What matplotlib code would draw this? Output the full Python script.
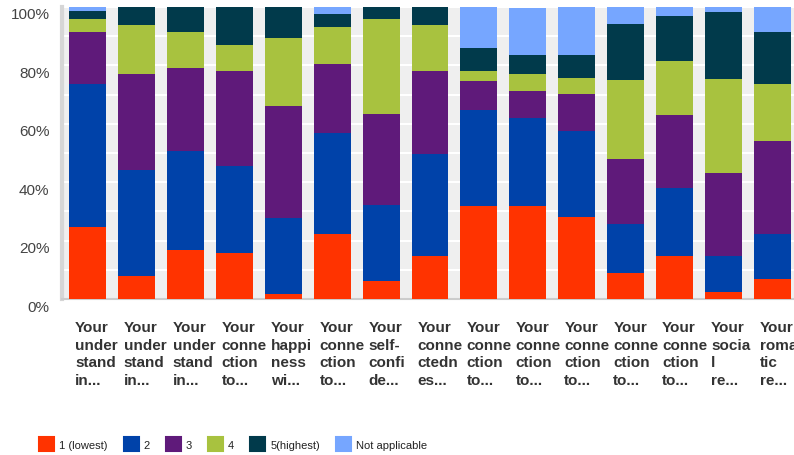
import matplotlib.pyplot as plt
from matplotlib.patches import Patch
from matplotlib.transforms import ScaledTranslation
import numpy as np

plt.rcParams['font.family'] = ['Liberation Sans', 'DejaVu Sans']

# short labels for each survey question
questions = [
    'Your\nunder\nstand\nin...', 'Your\nunder\nstand\nin...', 'Your\nunder\nstand\nin...',
    'Your\nconne\nction\nto...', 'Your\nhappi\nness\nwi...', 'Your\nconne\nction\nto...',
    'Your\nself-\nconfi\nde...', 'Your\nconne\nctedn\nes...', 'Your\nconne\nction\nto...',
    'Your\nconne\nction\nto...', 'Your\nconne\nction\nto...', 'Your\nconne\nction\nto...',
    'Your\nconne\nction\nto...', 'Your\nsocia\nl\nre...', 'Your\nroman\ntic\nre...',
]

# share of answers (%) per rating
r1 = [24.8, 7.9, 16.9, 15.8, 1.7, 22.3, 6.2, 14.7, 31.8, 31.8, 28.1, 8.9, 14.7, 2.4, 6.8]
r2 = [48.9, 36.3, 33.9, 29.6, 26.0, 34.7, 26.1, 34.9, 32.9, 30.1, 29.5, 16.8, 23.3, 12.3, 15.4]
r3 = [17.8, 32.9, 28.3, 32.8, 38.4, 23.5, 31.1, 28.4, 9.9, 9.2, 12.7, 22.3, 25.0, 28.4, 31.8]
r4 = [4.5, 16.8, 12.3, 8.9, 23.3, 12.7, 32.5, 15.8, 3.4, 5.8, 5.5, 27.1, 18.5, 32.2, 19.5]
r5 = [2.7, 6.2, 8.6, 13.0, 10.6, 4.5, 4.1, 6.2, 7.9, 6.5, 7.9, 19.2, 15.4, 22.9, 17.8]
na = [1.4, 0.0, 0.0, 0.0, 0.0, 2.4, 0.0, 0.0, 14.0, 16.4, 16.4, 5.8, 3.1, 1.7, 8.6]

series = [r1, r2, r3, r4, r5, na]
names = ['1 (lowest)', '2', '3', '4', '5(highest)', 'Not applicable']
colors = ['#FF3300', '#0042A9', '#5F1A7A', '#A8C23F', '#013A4B', '#76A6FF']

fig = plt.figure(figsize=(7.94, 4.56), dpi=100)
ax = fig.add_axes([62 / 794, 156 / 456, 736 / 794, 292 / 456])
ax.set_facecolor('#EFEFEF')

x = np.arange(len(questions))
bottom = np.zeros(len(questions))
for vals, c in zip(series, colors):
    vals = np.array(vals)
    ax.bar(x, vals, 0.756, bottom=bottom, color=c, zorder=3)
    bottom += vals

ax.set_xlim(-0.52, 14.52)
ax.set_ylim(0, 100)
ax.set_yticks([0, 20, 40, 60, 80, 100])
ax.set_yticklabels(['0%', '20%', '40%', '60%', '80%', '100%'])
ax.set_yticks(np.arange(10, 100, 20), minor=True)
ax.grid(axis='y', which='both', color='white', linewidth=1.5, zorder=1)
ax.tick_params(axis='y', which='both', length=0, pad=9, labelsize=11, labelcolor='#444444')
ax.set_xticks([])
for lbl in ax.get_yticklabels():
    lbl.set_transform(lbl.get_transform() + ScaledTranslation(0, -6 / 100, fig.dpi_scale_trans))

for s in ['top', 'right']:
    ax.spines[s].set_visible(False)
ax.spines['left'].set_color('#D6D6D6')
ax.spines['left'].set_linewidth(3)
ax.spines['bottom'].set_color('#CCCCCC')
ax.spines['bottom'].set_linewidth(1.5)

for i, q in enumerate(questions):
    ax.text(i - 0.255, -0.072, q, transform=ax.get_xaxis_transform(), ha='left', va='top',
            fontsize=11, fontweight='bold', color='#333333', linespacing=1.33)

# legend sizes are given in pixels, converted to font-size units
fs = 8
px = fs * 100 / 72
handles = [Patch(facecolor=c, edgecolor=c, linewidth=1.5, joinstyle='round') for c in colors]
fig.legend(handles, names, loc='center left', bbox_to_anchor=(39 / 794, 11 / 456), ncol=6,
           frameon=False, fontsize=fs,
           handlelength=15 / px, handleheight=16 / px,
           handletextpad=5 / px, columnspacing=16 / px,
           borderpad=0, borderaxespad=0, labelcolor='#222222')

fig.savefig('out.png', dpi=100)
